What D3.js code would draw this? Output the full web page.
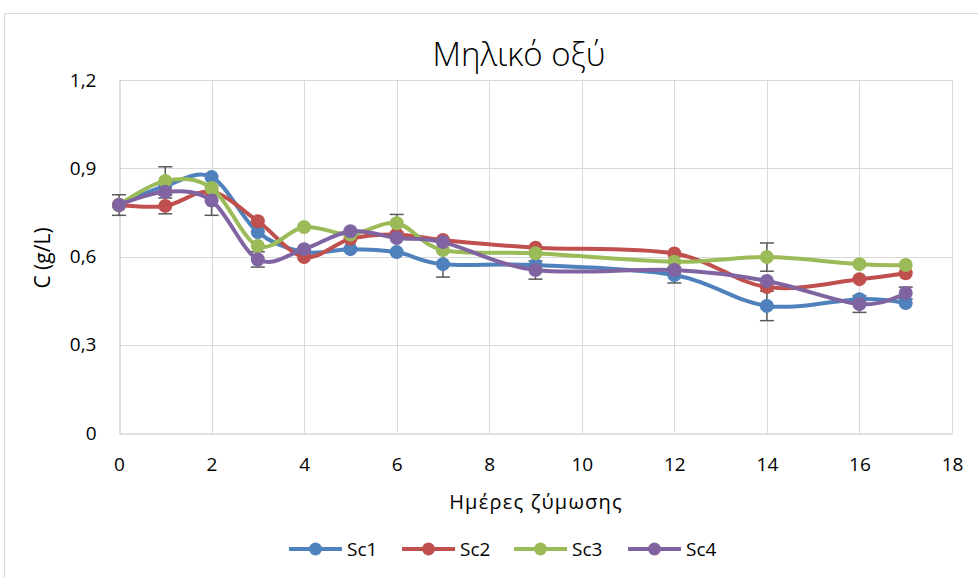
<!DOCTYPE html>
<html>
<head>
<meta charset="utf-8">
<script src="https://cdn.jsdelivr.net/npm/d3@7"></script>
<style>
	body { margin: 0; background: #fff; }
	text { font-family: "Open Sans", "Noto Sans", sans-serif; fill: #000; }
</style>
</head>
<body>
<svg id="chart" width="978" height="578"></svg>
<script>
// days of fermentation
var days = [0, 1, 2, 3, 4, 5, 6, 7, 9, 12, 14, 16, 17];

var sc1 = [0.775, 0.84, 0.87, 0.683, 0.615, 0.625, 0.615, 0.574, 0.571, 0.537, 0.432, 0.455, 0.442];
var sc2 = [0.775, 0.772, 0.82, 0.72, 0.598, 0.66, 0.675, 0.656, 0.63, 0.61, 0.496, 0.523, 0.543];
var sc3 = [0.775, 0.857, 0.833, 0.636, 0.70, 0.675, 0.713, 0.622, 0.611, 0.582, 0.598, 0.574, 0.571];
var sc4 = [0.775, 0.82, 0.79, 0.59, 0.625, 0.686, 0.663, 0.649, 0.554, 0.554, 0.517, 0.438, 0.476];

// error bar half widths
var err1 = [0.035, 0, 0, 0, 0, 0, 0, 0.044, 0, 0.027, 0.05, 0, 0];
var err2 = [0, 0.027, 0, 0, 0, 0, 0, 0, 0, 0, 0, 0, 0];
var err3 = [0, 0.048, 0, 0, 0, 0, 0.03, 0, 0, 0, 0.048, 0, 0];
var err4 = [0, 0, 0.05, 0.026, 0, 0, 0, 0, 0.031, 0, 0, 0.028, 0.02];

var seriesNames = ["Sc1", "Sc2", "Sc3", "Sc4"];
var seriesColors = ["#4F81BD", "#C0504D", "#9BBB59", "#8064A2"];
var xTicks = [0, 2, 4, 6, 8, 10, 12, 14, 16, 18];
var yTicks = [0, 0.3, 0.6, 0.9, 1.2];

var series = [
	{ name: seriesNames[0], color: seriesColors[0], values: sc1, err: err1 },
	{ name: seriesNames[1], color: seriesColors[1], values: sc2, err: err2 },
	{ name: seriesNames[2], color: seriesColors[2], values: sc3, err: err3 },
	{ name: seriesNames[3], color: seriesColors[3], values: sc4, err: err4 }
];

var svg = d3.select("#chart");

// chart frame
svg.append("rect")
	.attr("x", 4.5).attr("y", 13.5)
	.attr("width", 990).attr("height", 600)
	.attr("fill", "none")
	.attr("stroke", "#D9D9D9");

var x = d3.scaleLinear().domain([0, 18]).range([119, 952]);
var y = d3.scaleLinear().domain([0, 1.2]).range([433, 80]);

// grid
svg.append("g").selectAll("line.h")
	.data(yTicks.filter(function(d) { return d > 0; }))
	.enter().append("line")
	.attr("x1", x(0)).attr("x2", x(18))
	.attr("y1", function(d) { return Math.round(y(d)) + 0.5; })
	.attr("y2", function(d) { return Math.round(y(d)) + 0.5; })
	.attr("stroke", "#D9D9D9");
svg.append("g").selectAll("line.v")
	.data(xTicks.filter(function(d) { return d > 0; }))
	.enter().append("line")
	.attr("y1", y(0)).attr("y2", y(1.2))
	.attr("x1", function(d) { return Math.round(x(d)) + 0.5; })
	.attr("x2", function(d) { return Math.round(x(d)) + 0.5; })
	.attr("stroke", "#D9D9D9");

// axes
var xAxis = svg.append("g")
	.attr("transform", "translate(0," + (Math.round(y(0)) + 0.5) + ")")
	.call(d3.axisBottom(x).tickValues(xTicks).tickSize(0).tickPadding(24));
var yAxis = svg.append("g")
	.attr("transform", "translate(" + (Math.round(x(0)) + 0.5) + ",0)")
	.call(d3.axisLeft(y).tickValues(yTicks).tickSize(0).tickPadding(23)
		.tickFormat(function(d) { return d3.format(".1~f")(d).replace(".", ","); }));
[xAxis, yAxis].forEach(function(a) {
	a.select(".domain").attr("stroke", "#BFBFBF");
	a.selectAll("text").style("font-size", "19px").style("font-family", "'Open Sans', sans-serif");
});

// error bars
var errGroup = svg.append("g");
series.forEach(function(s) {
	s.values.forEach(function(v, i) {
		if (!s.err[i]) return;
		var cx = x(days[i]);
		var top = y(v + s.err[i]), bottom = y(v - s.err[i]);
		errGroup.append("line")
			.attr("x1", cx).attr("x2", cx).attr("y1", top).attr("y2", bottom)
			.attr("stroke", "#595959").attr("stroke-width", 1.5);
		[top, bottom].forEach(function(yy) {
			errGroup.append("line")
				.attr("x1", cx - 7).attr("x2", cx + 7).attr("y1", yy).attr("y2", yy)
				.attr("stroke", "#595959").attr("stroke-width", 1.5);
		});
	});
});

// lines and markers
var line = d3.line()
	.x(function(d, i) { return x(days[i]); })
	.y(function(d) { return y(d); })
	.curve(d3.curveCardinal.tension(0));

series.forEach(function(s) {
	var g = svg.append("g");
	g.append("path")
		.attr("d", line(s.values))
		.attr("fill", "none")
		.attr("stroke", s.color)
		.attr("stroke-width", 4)
		.attr("stroke-linejoin", "round");
	g.selectAll("circle")
		.data(s.values)
		.enter().append("circle")
		.attr("cx", function(d, i) { return x(days[i]); })
		.attr("cy", function(d) { return y(d); })
		.attr("r", 7)
		.attr("fill", s.color);
});

// titles
svg.append("text")
	.attr("x", 519).attr("y", 66)
	.attr("text-anchor", "middle")
	.style("font-size", "33px")
	.style("font-weight", 300)
	.text("Μηλικό οξύ");
svg.append("text")
	.attr("transform", "translate(50,258) rotate(-90)")
	.attr("text-anchor", "middle")
	.style("font-size", "21px")
	.text("C (g/L)");
svg.append("text")
	.attr("x", 536).attr("y", 509)
	.attr("text-anchor", "middle")
	.style("font-size", "20px")
	.style("letter-spacing", "1.2px")
	.text("Ημέρες ζύμωσης");

// legend
var legendX = [289, 402, 514, 628];
var legend = svg.append("g");
series.forEach(function(s, i) {
	var lg = legend.append("g").attr("transform", "translate(" + legendX[i] + ",549)");
	lg.append("line").attr("x1", 0).attr("x2", 53)
		.attr("stroke", s.color).attr("stroke-width", 4);
	lg.append("circle").attr("cx", 26.5).attr("r", 6.5).attr("fill", s.color);
	lg.append("text").attr("x", 58).attr("y", 7)
		.style("font-size", "19px").text(s.name);
});
</script>
</body>
</html>
